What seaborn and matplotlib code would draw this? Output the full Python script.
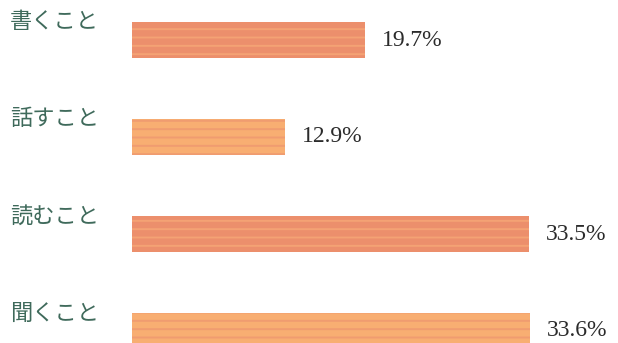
import matplotlib
matplotlib.use("Agg")
import matplotlib.pyplot as plt
import seaborn as sns
import pandas as pd

categories = ["書くこと", "話すこと", "読むこと", "聞くこと"]
values = [19.7, 12.9, 33.5, 33.6]
value_labels = ["19.7%", "12.9%", "33.5%", "33.6%"]
bar_colors = ["#EC8F6C", "#F8AE72", "#EC8F6C", "#F8AE72"]
stripe_colors = ["#F4A274", "#F09C70", "#F4A274", "#F09C70"]

sns.set_theme(style="white")
plt.rcParams["font.family"] = ["Noto Sans CJK JP", "DejaVu Sans"]
plt.rcParams["hatch.linewidth"] = 1.4

df = pd.DataFrame({"cat": categories, "val": values})

fig = plt.figure(figsize=(6.18, 3.43), dpi=100)
ax = fig.add_axes([0, 0, 1, 1])
sns.barplot(data=df, x="val", y="cat", hue="cat", palette=bar_colors,
            saturation=1, legend=False, width=0.37, ax=ax, orient="h",
            linewidth=0)

for c, lab, sc in zip(ax.containers, value_labels, stripe_colors):
    for p in c:
        p.set_edgecolor(sc)
        p.set_linewidth(0)
        p.set_hatch("--")
    ax.bar_label(c, labels=[lab], padding=12, fontsize=17, color="#2b2b2b",
                 family=["Liberation Serif", "DejaVu Serif"])

px_per_unit = 11.85
ax.set_xlim(-132 / px_per_unit, (618 - 132) / px_per_unit)
ax.set_ylim(3 + (343 - 331) / 97, -40 / 97)

for i, cat in enumerate(categories):
    ax.annotate(cat, xy=(0.016, i), xycoords=("axes fraction", "data"),
                xytext=(0, 13), textcoords="offset points",
                ha="left", va="center", fontsize=16, color="#3F6A5B")

ax.set_axis_off()
fig.savefig("out.png", dpi=100, facecolor="white")
